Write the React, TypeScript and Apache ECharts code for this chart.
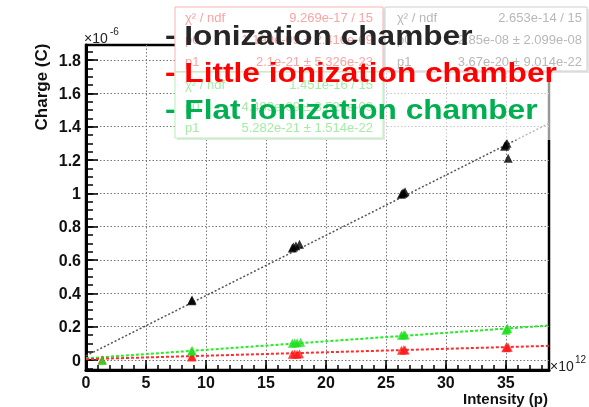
import React, { useEffect, useRef } from "react";
import * as echarts from "echarts";

const FONT = "'Liberation Sans', Arial, Helvetica, sans-serif";

// Axis ticks / labels
const xTickValues = [0, 5, 10, 15, 20, 25, 30, 35];
const xMinorTickValues = [0, 1, 2, 3, 4, 5, 6, 7, 8, 9, 10, 11, 12, 13, 14, 15, 16, 17, 18, 19, 20, 21, 22, 23, 24, 25, 26, 27, 28, 29, 30, 31, 32, 33, 34, 35, 36, 37, 38];
const yTickValues = [0, 0.2, 0.4, 0.6, 0.8, 1, 1.2, 1.4, 1.6, 1.8];
const yMinorTickValues = [-0.05, 0, 0.05, 0.1, 0.15, 0.2, 0.25, 0.3, 0.35, 0.4, 0.45, 0.5, 0.55, 0.6, 0.65, 0.7, 0.75, 0.8, 0.85, 0.9, 0.95, 1, 1.05, 1.1, 1.15, 1.2, 1.25, 1.3, 1.35, 1.4, 1.45, 1.5, 1.55, 1.6, 1.65, 1.7, 1.75, 1.8, 1.85];

// Ionization chamber (black), units: x 1e12 p, y 1e-6 C
const ionX = [8.8, 8.85, 17.2, 17.3, 17.5, 17.8, 26.3, 26.4, 26.5, 26.6, 34.9, 35.0, 35.1, 35.2];
const ionY = [0.355, 0.36, 0.672, 0.678, 0.685, 0.695, 0.995, 1.0, 1.003, 1.01, 1.283, 1.29, 1.3, 1.21];
// Little ionization chamber (red)
const littleX = [1.35, 8.8, 8.85, 17.2, 17.4, 17.6, 17.8, 26.3, 26.5, 26.6, 35.0, 35.1, 35.2];
const littleY = [0.002, 0.018, 0.022, 0.034, 0.036, 0.035, 0.037, 0.058, 0.062, 0.06, 0.074, 0.078, 0.076];
// Flat ionization chamber (green)
const flatX = [1.35, 8.8, 8.85, 17.2, 17.4, 17.6, 17.9, 26.3, 26.5, 26.6, 35.0, 35.1, 35.15];
const flatY = [-0.003, 0.052, 0.057, 0.1, 0.102, 0.104, 0.106, 0.148, 0.152, 0.15, 0.178, 0.186, 0.19];

// Linear fits (end points)
const fitX = [0, 38.6];
const ionFitY = [0.025, 1.42];
const littleFitY = [0.005, 0.085];
const flatFitY = [0.01, 0.207];

const legendLabels = ["- Ionization chamber", "- Little ionization chamber", "- Flat ionization chamber"];

const redStats = [["χ² / ndf", "9.269e-17 / 15"], ["p0", "1.199e-09 ± 2.416e-09"], ["p1", "2.1e-21 ± 5.326e-23"]];
const greenStats = [["χ² / ndf", "1.451e-16 / 15"], ["p0", "4.483e-09 ± 3.527e-09"], ["p1", "5.282e-21 ± 1.514e-22"]];
const greyStats = [["χ² / ndf", "2.653e-14 / 15"], ["p0", "2.85e-08 ± 2.099e-08"], ["p1", "3.67e-20 ± 9.014e-22"]];

const pairs = (xs: number[], ys: number[]) => xs.map((x, i) => [x, ys[i]]);

const statTexts = (rows: string[][], left: number, right: number, ys: number[], color: string) => {
  const out: any[] = [];
  rows.forEach((r, i) => {
    out.push({ type: "text", z: 102, x: left, y: ys[i], style: { text: r[0], font: `13px ${FONT}`, fill: color, align: "left", verticalAlign: "middle" } });
    out.push({ type: "text", z: 102, x: right, y: ys[i], style: { text: r[1], font: `13px ${FONT}`, fill: color, align: "right", verticalAlign: "middle" } });
  });
  return out;
};

export default function App() {
  const ref = useRef<HTMLDivElement>(null);
  useEffect(() => {
    document.body.style.margin = "0";
    const chart = echarts.init(ref.current!, null, { renderer: "svg" });
    const gridLine = { show: true, lineStyle: { color: "#777", width: 1, type: [1.5, 2] as any } };
    const labelStyle = { fontSize: 16, fontWeight: "bold" as const, fontFamily: FONT, color: "#111" };
    const option: any = {
      animation: false,
      grid: { left: 86, right: 40, top: 45, bottom: 37, show: true, borderColor: "#000", borderWidth: 2.5, backgroundColor: "transparent" },
      xAxis: [
        {
          type: "value", min: 0, max: 38.6, position: "bottom",
          axisLine: { show: true, onZero: false, lineStyle: { color: "#000", width: 3 } },
          axisTick: { show: true, inside: true, length: 10, customValues: xTickValues, lineStyle: { color: "#000", width: 1.5 } },
          axisLabel: { ...labelStyle, customValues: xTickValues, margin: 4 },
          splitLine: gridLine,
        },
        {
          type: "value", min: 0, max: 38.6, position: "bottom",
          axisLine: { show: false, onZero: false },
          axisTick: { show: true, inside: true, length: 5, customValues: xMinorTickValues, lineStyle: { color: "#000", width: 1.5 } },
          axisLabel: { show: false },
          splitLine: { show: false },
        },
      ],
      yAxis: [
        {
          type: "value", min: -0.06, max: 1.89, position: "left",
          axisLine: { show: true, onZero: false, lineStyle: { color: "#000", width: 3 } },
          axisTick: { show: true, inside: true, length: 12, customValues: yTickValues, lineStyle: { color: "#000", width: 1.5 } },
          axisLabel: { ...labelStyle, customValues: yTickValues, margin: 5 },
          splitLine: gridLine,
        },
        {
          type: "value", min: -0.06, max: 1.89, position: "left",
          axisLine: { show: false, onZero: false },
          axisTick: { show: true, inside: true, length: 7, customValues: yMinorTickValues, lineStyle: { color: "#000", width: 1.5 } },
          axisLabel: { show: false },
          splitLine: { show: false },
        },
      ],
      series: [
        { type: "line", data: pairs(fitX, ionFitY), showSymbol: false, symbol: "none", lineStyle: { color: "#555", width: 1.5, type: [2, 2] }, z: 2 },
        { type: "line", data: pairs(fitX, flatFitY), showSymbol: false, symbol: "none", lineStyle: { color: "#22ee22", width: 2, type: [3, 2] }, z: 2 },
        { type: "line", data: pairs(fitX, littleFitY), showSymbol: false, symbol: "none", lineStyle: { color: "#ff2a2a", width: 2, type: [3, 2] }, z: 2 },
        { type: "scatter", data: pairs(littleX, littleY), symbol: "triangle", symbolSize: 9, itemStyle: { color: "#ff1a1a" }, z: 3 },
        { type: "scatter", data: pairs(flatX, flatY), symbol: "triangle", symbolSize: 9, itemStyle: { color: "#1ee01e" }, z: 4 },
        { type: "scatter", data: pairs(ionX, ionY), symbol: "triangle", symbolSize: 9, itemStyle: { color: "#000" }, z: 5 },
      ],
      graphic: [
        // axis titles and exponents
        { type: "text", z: 50, x: 41, y: 87, rotation: Math.PI / 2, style: { text: "Charge (C)", font: `bold 17px ${FONT}`, fill: "#111", align: "center", verticalAlign: "middle" } },
        { type: "text", z: 50, x: 548, y: 398, style: { text: "Intensity (p)", font: `bold 15px ${FONT}`, fill: "#111", align: "right", verticalAlign: "middle" } },
        { type: "text", z: 50, x: 84, y: 38, style: { text: "×10", font: `14px ${FONT}`, fill: "#222", align: "left", verticalAlign: "middle" } },
        { type: "text", z: 50, x: 110, y: 31, style: { text: "-6", font: `10px ${FONT}`, fill: "#222", align: "left", verticalAlign: "middle" } },
        { type: "text", z: 50, x: 550, y: 366, style: { text: "×10", font: `14px ${FONT}`, fill: "#222", align: "left", verticalAlign: "middle" } },
        { type: "text", z: 50, x: 575, y: 359, style: { text: "12", font: `10px ${FONT}`, fill: "#222", align: "left", verticalAlign: "middle" } },
        // faded region under legend
        { type: "rect", z: 100, shape: { x: 383, y: 71, width: 180, height: 69 }, style: { fill: "rgba(255,255,255,0.6)" } },
        // red stats box
        { type: "rect", z: 100, shape: { x: 177, y: 9, width: 208, height: 65 }, style: { fill: "#e6e6e6" } },
        { type: "rect", z: 101, shape: { x: 175, y: 7, width: 208, height: 65 }, style: { fill: "#fff", stroke: "#f6b3b3", lineWidth: 1 } },
        // green stats box
        { type: "rect", z: 100, shape: { x: 177, y: 74, width: 208, height: 66 }, style: { fill: "#e6e6e6" } },
        { type: "rect", z: 101, shape: { x: 175, y: 72, width: 208, height: 66 }, style: { fill: "#fff", stroke: "#b3f0b3", lineWidth: 1 } },
        // grey stats box
        { type: "rect", z: 100, shape: { x: 387, y: 9, width: 202, height: 64 }, style: { fill: "#e6e6e6" } },
        { type: "rect", z: 101, shape: { x: 385, y: 7, width: 202, height: 64 }, style: { fill: "#fff", stroke: "#cfcfcf", lineWidth: 1 } },
        ...statTexts(redStats, 185, 373, [17, 39, 61], "#f8a5a5"),
        ...statTexts(greenStats, 185, 373, [84, 106, 127], "#a6eba6"),
        ...statTexts(greyStats, 397, 582, [17, 39, 61], "#b8b8b8"),
        // legend texts
        { type: "text", z: 110, x: 165, y: 35, scaleX: 1.13, style: { text: legendLabels[0], font: `bold 28px ${FONT}`, fill: "#262626", align: "left", verticalAlign: "middle" } },
        { type: "text", z: 110, x: 165, y: 72, scaleX: 1.13, style: { text: legendLabels[1], font: `bold 28px ${FONT}`, fill: "#ff0000", align: "left", verticalAlign: "middle" } },
        { type: "text", z: 110, x: 165, y: 109, scaleX: 1.13, style: { text: legendLabels[2], font: `bold 28px ${FONT}`, fill: "#00b050", align: "left", verticalAlign: "middle" } },
      ],
    };
    chart.setOption(option);
    return () => chart.dispose();
  }, []);
  return <div ref={ref} style={{ position: "fixed", left: 0, top: 0, width: 589, height: 407 }} />;
}
